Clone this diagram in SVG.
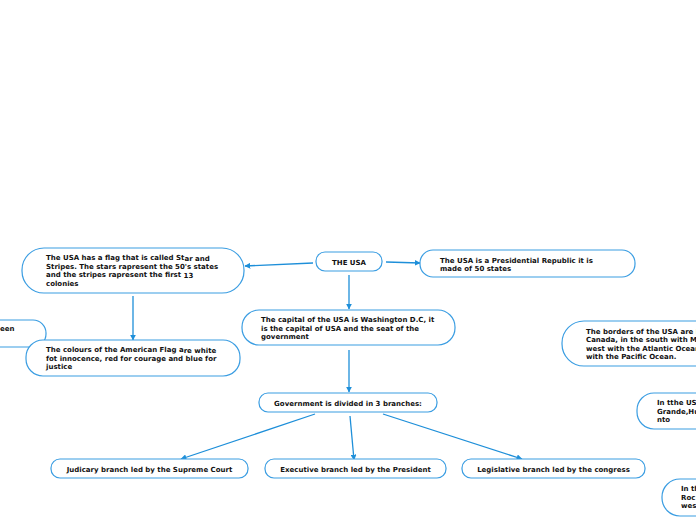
<svg xmlns="http://www.w3.org/2000/svg" width="696" height="520" viewBox="0 0 696 520">
<defs>
<style>
.n{fill:#fff;stroke:#3a9de2;stroke-width:1.2}
.t{font-family:"DejaVu Sans",Verdana,sans-serif;font-weight:bold;font-size:7px;fill:#111}
.c{text-anchor:middle}
.e{stroke:#1e8fd9;stroke-width:1.3;fill:none;marker-end:url(#a)}
</style>
<marker id="a" viewBox="0 0 10 10" refX="9" refY="5" markerWidth="6" markerHeight="6" orient="auto" markerUnits="userSpaceOnUse">
<path d="M0,0L10,5L0,10z" fill="#1e8fd9"/>
</marker>
</defs>
<rect width="696" height="520" fill="#fff"/>
<g id="connectors">
<line class="e" x1="313" y1="263" x2="245" y2="266"/>
<line class="e" x1="386" y1="262" x2="420" y2="263"/>
<line class="e" x1="349" y1="275" x2="349" y2="309"/>
<line class="e" x1="133" y1="296" x2="133" y2="340"/>
<line class="e" x1="349" y1="350" x2="349" y2="392"/>
<line class="e" x1="315" y1="414" x2="181" y2="459"/>
<line class="e" x1="350" y1="416" x2="354" y2="460"/>
<line class="e" x1="383" y1="414" x2="522" y2="459"/>
</g>
<g id="usa">
<rect class="n" x="316" y="252" width="66" height="19" rx="9"/>
<text class="t c" x="349" y="264.5">THE USA</text>
</g>
<g id="flag">
<rect class="n" x="22" y="248" width="222" height="45" rx="22"/>
<text class="t" x="46"><tspan x="46" y="259.5">The USA has a flag that is called St<tspan dy="1">ar and</tspan></tspan><tspan x="46" y="268.5">Stripes. The stars rapresent the 50's states</tspan><tspan x="46" y="277">and the stripes rapresent the first <tspan dy="1">13</tspan></tspan><tspan x="46" y="286">colonies</tspan></text>
</g>
<g id="republic">
<rect class="n" x="420" y="250" width="215" height="27" rx="13"/>
<text class="t"><tspan x="440" y="262.5">The USA is a Presidential Republic it is</tspan><tspan x="440" y="271">made of 50 states</tspan></text>
</g>
<g id="capital">
<rect class="n" x="242" y="310" width="213" height="35" rx="17"/>
<text class="t"><tspan x="261" y="321.5">The capital of the USA is Washington D.C, it</tspan><tspan x="261" y="330.5">is the capital of USA and the seat of the</tspan><tspan x="261" y="339">government</tspan></text>
</g>
<g id="green">
<rect class="n" x="-40" y="320" width="86" height="27" rx="13"/>
<text class="t" x="0" y="331">een</text>
</g>
<g id="colours">
<rect class="n" x="26" y="340" width="214" height="36" rx="17"/>
<text class="t"><tspan x="46" y="352">The colours of the American Flag a<tspan dy="0.5">re white</tspan></tspan><tspan x="46" y="360.5">fot innocence, red for courage and blue for</tspan><tspan x="46" y="369">justice</tspan></text>
</g>
<g id="borders">
<rect class="n" x="562" y="321" width="180" height="45" rx="22"/>
<text class="t"><tspan x="586" y="333.5">The borders of the USA are b</tspan><tspan x="586" y="342">Canada, in the south with Me</tspan><tspan x="586" y="350.5">west with the Atlantic Ocean</tspan><tspan x="586" y="359">with the Pacific Ocean.</tspan></text>
</g>
<g id="government">
<rect class="n" x="259" y="393" width="178" height="19" rx="9"/>
<text class="t c" x="348" y="405.5">Government is divided in 3 branches:</text>
</g>
<g id="rivers">
<rect class="n" x="637" y="393" width="100" height="36" rx="17"/>
<text class="t"><tspan x="657" y="405">In tthe US</tspan><tspan x="657" y="413.5">Grande,Hu</tspan><tspan x="657" y="422">nto</tspan></text>
</g>
<g id="judicary">
<rect class="n" x="51" y="459" width="197" height="19" rx="9"/>
<text class="t c" x="149.5" y="471.5">Judicary branch led by the Supreme Court</text>
</g>
<g id="executive">
<rect class="n" x="265" y="459" width="181" height="19" rx="9"/>
<text class="t c" x="355.5" y="471.5">Executive branch led by the President</text>
</g>
<g id="legislative">
<rect class="n" x="462" y="459" width="183" height="19" rx="9"/>
<text class="t c" x="553.5" y="471.5">Legislative branch led by the congress</text>
</g>
<g id="mountains">
<rect class="n" x="662" y="479" width="100" height="37" rx="18"/>
<text class="t"><tspan x="681" y="491">In th</tspan><tspan x="681" y="499.5">Roc</tspan><tspan x="681" y="508">wes</tspan></text>
</g>
</svg>
